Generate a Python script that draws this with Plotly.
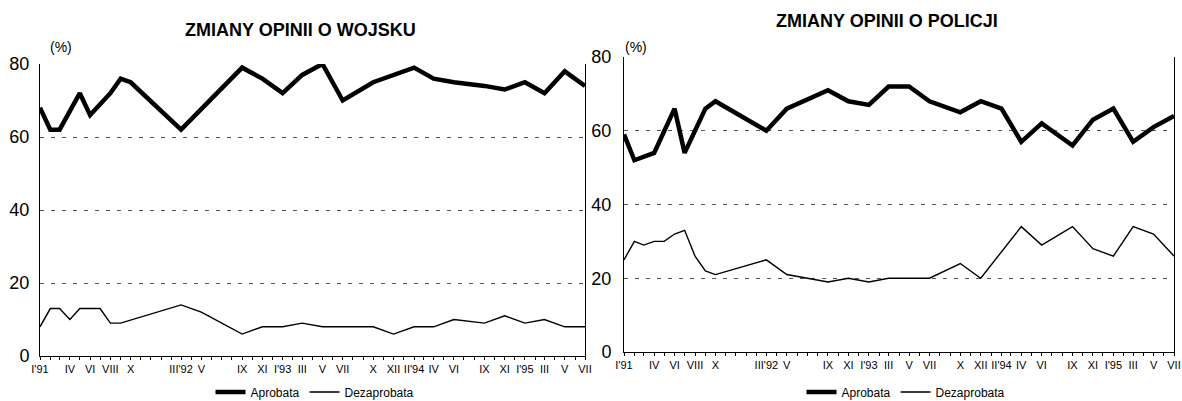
import pandas as pd
import plotly.graph_objects as go

# --- data: survey month -> percent ---
woj_apr_months = ["1991-01", "1991-02", "1991-03", "1991-05", "1991-06", "1991-08", "1991-09", "1991-10",
                  "1992-03", "1992-09", "1992-11", "1993-01", "1993-03", "1993-05", "1993-07", "1993-10",
                  "1994-02", "1994-04", "1994-06", "1994-09", "1994-11", "1995-01", "1995-03", "1995-05", "1995-07"]
woj_apr = [68, 62, 62, 72, 66, 72, 76, 75, 62, 79, 76, 72, 77, 80, 70, 75, 79, 76, 75, 74, 73, 75, 72, 78, 74]

woj_dez_months = ["1991-01", "1991-02", "1991-03", "1991-04", "1991-05", "1991-07", "1991-08", "1991-09",
                  "1992-03", "1992-05", "1992-09", "1992-11", "1993-01", "1993-03", "1993-05", "1993-10",
                  "1993-12", "1994-02", "1994-04", "1994-06", "1994-09", "1994-11", "1995-01", "1995-03",
                  "1995-05", "1995-07"]
woj_dez = [8, 13, 13, 10, 13, 13, 9, 9, 14, 12, 6, 8, 8, 9, 8, 8, 6, 8, 8, 10, 9, 11, 9, 10, 8, 8]

pol_apr_months = ["1991-01", "1991-02", "1991-04", "1991-06", "1991-07", "1991-09", "1991-10",
                  "1992-03", "1992-05", "1992-09", "1992-11", "1993-01", "1993-03", "1993-05", "1993-07",
                  "1993-10", "1993-12", "1994-02", "1994-04", "1994-06", "1994-09", "1994-11", "1995-01",
                  "1995-03", "1995-05", "1995-07"]
pol_apr = [59, 52, 54, 66, 54, 66, 68, 60, 66, 71, 68, 67, 72, 72, 68, 65, 68, 66, 57, 62, 56, 63, 66, 57, 61, 64]

pol_dez_months = ["1991-01", "1991-02", "1991-03", "1991-04", "1991-05", "1991-06", "1991-07", "1991-08",
                  "1991-09", "1991-10", "1992-03", "1992-05", "1992-09", "1992-11", "1993-01", "1993-03",
                  "1993-07", "1993-10", "1993-12", "1994-04", "1994-06", "1994-09", "1994-11", "1995-01",
                  "1995-03", "1995-05", "1995-07"]
pol_dez = [25, 30, 29, 30, 30, 32, 33, 26, 22, 21, 25, 21, 19, 20, 19, 20, 20, 24, 20, 34, 29, 34, 28, 26, 34, 32, 26]

label_months = ["1991-01", "1991-04", "1991-06", "1991-08", "1991-10", "1992-03", "1992-05", "1992-09",
                "1992-11", "1993-01", "1993-03", "1993-05", "1993-07", "1993-10", "1993-12", "1994-02",
                "1994-04", "1994-06", "1994-09", "1994-11", "1995-01", "1995-03", "1995-05", "1995-07"]
label_text = ["I'91", "IV", "VI", "VIII", "X", "III'92", "V", "IX", "XI", "I'93", "III", "V", "VII",
              "X", "XII", "II'94", "IV", "VI", "IX", "XI", "I'95", "III", "V", "VII"]

# a tick on every month, text only where the original has a label
all_months = pd.date_range("1991-01-01", "1995-07-01", freq="MS").strftime("%Y-%m").tolist()
lab = dict(zip(label_months, label_text))
tickvals = [m + "-01" for m in all_months]
ticktext = [lab.get(m, "") for m in all_months]

FONT = "Liberation Sans, Arial, sans-serif"
W, H = 1182, 401

fig = go.Figure()

def add_pair(apr_m, apr, dez_m, dez, xa, ya, leg):
    fig.add_trace(go.Scatter(x=[m + "-01" for m in apr_m], y=apr, mode="lines", name="Aprobata",
                             line=dict(color="black", width=4.5), xaxis=xa, yaxis=ya, legend=leg))
    fig.add_trace(go.Scatter(x=[m + "-01" for m in dez_m], y=dez, mode="lines", name="Dezaprobata",
                             line=dict(color="black", width=1.4), xaxis=xa, yaxis=ya, legend=leg))

add_pair(woj_apr_months, woj_apr, woj_dez_months, woj_dez, "x", "y", "legend")
add_pair(pol_apr_months, pol_apr, pol_dez_months, pol_dez, "x2", "y2", "legend2")

xcommon = dict(type="date", range=["1991-01-01", "1995-07-01"], tickmode="array",
               tickvals=tickvals, ticktext=ticktext, automargin=False, ticklabeloverflow="allow",
               showgrid=False, showline=True, linecolor="black", linewidth=1,
               ticks="outside", ticklen=3, tickcolor="black",
               tickfont=dict(family=FONT, size=11, color="black"), tickangle=0, fixedrange=True)
ycommon = dict(range=[0, 80], tickvals=[0, 20, 40, 60, 80], showline=True, mirror=True,
               linecolor="black", linewidth=1, showgrid=True, gridcolor="#555555",
               griddash="4px,7px", gridwidth=1, zeroline=False, ticks="", automargin=False,
               tickfont=dict(family=FONT, size=18, color="black"), fixedrange=True)

legfont = dict(family=FONT, size=12, color="black")

def note(text, x, y, size, bold=False):
    return dict(text=f"<b>{text}</b>" if bold else text, x=x / W, y=1 - y / H,
                xref="paper", yref="paper", xanchor="center", yanchor="middle",
                showarrow=False, font=dict(family=FONT, size=size, color="black"))

fig.update_layout(
    width=W, height=H,
    margin=dict(l=0, r=0, t=0, b=0, autoexpand=False),
    paper_bgcolor="white", plot_bgcolor="white",
    xaxis=dict(xcommon, domain=[40 / W, 585 / W], anchor="y"),
    yaxis=dict(ycommon, domain=[1 - 356 / H, 1 - 64 / H], anchor="x", ticklabelstandoff=6),
    xaxis2=dict(xcommon, domain=[624 / W, 1174 / W], anchor="y2"),
    yaxis2=dict(ycommon, domain=[1 - 352 / H, 1 - 57 / H], anchor="x2", ticklabelstandoff=8),
    legend=dict(orientation="h", x=315 / W, xanchor="center", y=1 - 392 / H, yanchor="middle",
                font=legfont, tracegroupgap=0),
    legend2=dict(orientation="h", x=906 / W, xanchor="center", y=1 - 392 / H, yanchor="middle",
                 font=legfont, tracegroupgap=0),
    annotations=[
        note("ZMIANY OPINII O WOJSKU", 300, 30, 18, bold=True),
        note("ZMIANY OPINII O POLICJI", 887, 21, 18, bold=True),
        note("(%)", 61, 47, 14),
        note("(%)", 636, 47, 14),
    ],
)

# page body has a default 8px margin; drop it so the figure sits at the window corner
fig.write_html("out.html", config={"displayModeBar": False},
               post_script="document.body.style.margin='0';")
